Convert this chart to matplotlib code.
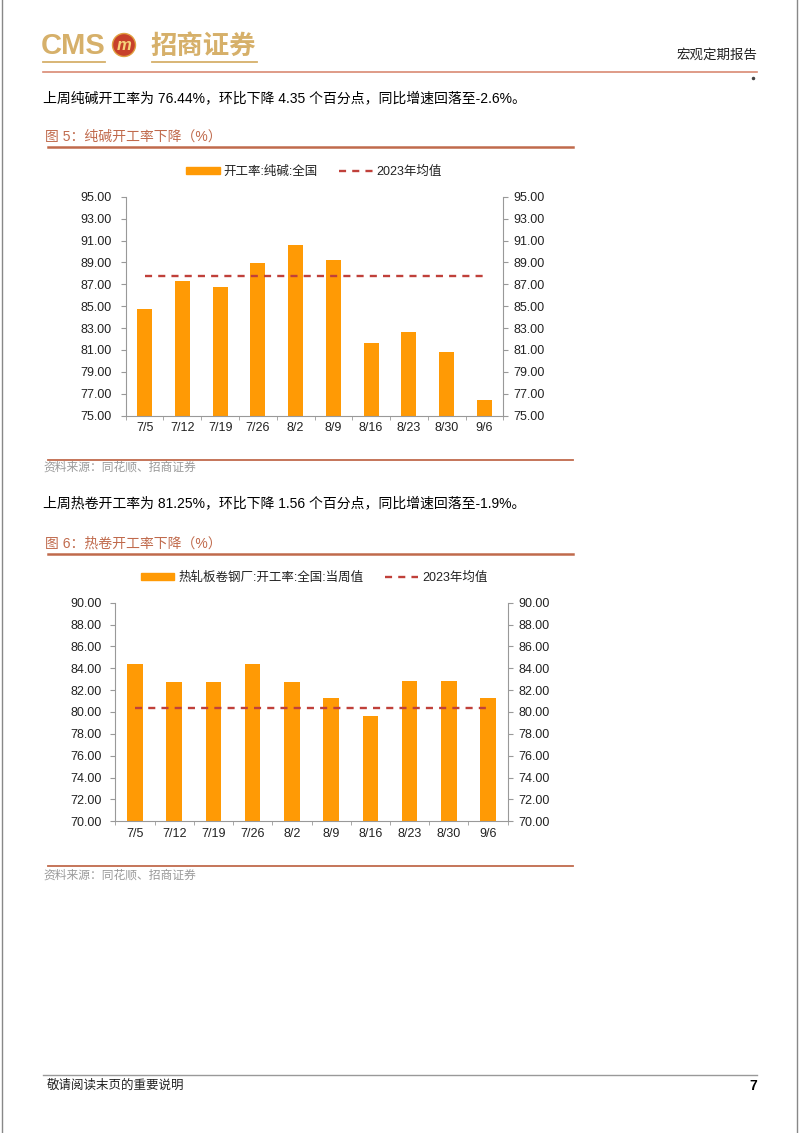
import numpy as np
import matplotlib
matplotlib.use("Agg")
import matplotlib.pyplot as plt
from matplotlib.patches import Patch, Ellipse
from matplotlib.lines import Line2D

plt.rcParams['font.family'] = ['Liberation Sans', 'Noto Sans CJK SC', 'DejaVu Sans']

W, H = 802, 1133
dates = ["7/5", "7/12", "7/19", "7/26", "8/2", "8/9", "8/16", "8/23", "8/30", "9/6"]
soda_rate = [84.74, 87.30, 86.78, 88.97, 90.59, 89.22, 81.61, 82.67, 80.79, 76.44]
soda_mean = 87.75
hrc_rate = [84.36, 82.77, 82.77, 84.36, 82.77, 81.25, 79.66, 82.81, 82.81, 81.25]
hrc_mean = 80.40
soda_ticks = [75, 77, 79, 81, 83, 85, 87, 89, 91, 93, 95]
hrc_ticks = [70, 72, 74, 76, 78, 80, 82, 84, 86, 88, 90]

ORANGE = "#ff9a05"; RED = "#c0403a"; TITLE = "#c06a4c"; GOLD = "#d6b06a"; RULE = "#d98a73"

fig = plt.figure(figsize=(8.02, 11.33), dpi=100)
def fx(x): return x / W
def fy(y): return 1 - y / H
def hline(x0, x1, y, color, lw):
    fig.add_artist(Line2D([fx(x0), fx(x1)], [fy(y), fy(y)], color=color, lw=lw))

def bar_chart(l, t, r, b, values, mean, ticks, series_name, legend_y, lpad):
    ax = fig.add_axes([l / W, 1 - b / H, (r - l) / W, (b - t) / H])
    x = np.arange(len(dates))
    ax.bar(x, values, width=0.4, color=ORANGE, zorder=2)
    ax.plot(x, np.full(len(dates), mean), color=RED, lw=1.7, dashes=(3.0, 2.6), zorder=3)
    ax.set_xlim(-0.5, len(dates) - 0.5); ax.set_ylim(ticks[0], ticks[-1])
    ax.set_xticks(x); ax.set_xticklabels(dates)
    ax.set_xticks(np.arange(-0.5, len(dates)), minor=True)
    ax.tick_params(axis='x', which='major', length=0, pad=4.5, labelsize=9, labelcolor="#222")
    ax.tick_params(axis='x', which='minor', length=3.2, color="#999", direction='out')
    ax.set_yticks(ticks); ax.set_yticklabels([f"{v:.2f}" for v in ticks])
    ax.tick_params(axis='y', length=3.3, color="#999", pad=lpad, labelsize=9, labelcolor="#222")
    for s in ("top", "right"): ax.spines[s].set_visible(False)
    for s in ("left", "bottom"): ax.spines[s].set_color("#999")
    ax2 = ax.twinx(); ax2.set_ylim(ticks[0], ticks[-1])
    ax2.set_yticks(ticks); ax2.set_yticklabels([f"{v:.2f}" for v in ticks])
    ax2.tick_params(axis='y', length=3.3, color="#999", pad=4.2, labelsize=9, labelcolor="#222")
    for s in ("top", "left", "bottom"): ax2.spines[s].set_visible(False)
    ax2.spines["right"].set_color("#999")
    hdl = [Patch(color=ORANGE, label=series_name),
           Line2D([], [], color=RED, lw=1.7, dashes=(3.0, 2.6), label="2023年均值")]
    leg = fig.legend(handles=hdl, loc='center', bbox_to_anchor=(fx(314), fy(legend_y)), ncol=2,
                     frameon=False, fontsize=9, handlelength=2.7, handleheight=0.5,
                     columnspacing=1.7, handletextpad=0.3)
    for tx in leg.get_texts(): tx.set_color("#222")
    return ax

# page frame + header
fig.add_artist(Line2D([fx(1.5), fx(1.5)], [0, 1], color="#888", lw=1))
fig.add_artist(Line2D([fx(797), fx(797)], [0, 1], color="#888", lw=1))
fig.text(fx(41), fy(46), "CMS", color=GOLD, fontsize=21, fontweight='bold', va='center')
fig.add_artist(Ellipse((fx(124), fy(45)), 23 / W, 23 / H, facecolor="#c7402a", edgecolor="#e0a040", lw=1))
fig.text(fx(124), fy(45), "m", color="#f7d27a", fontsize=12, fontweight='bold', style='italic', ha='center', va='center')
fig.text(fx(150), fy(46), "招商证券", color=GOLD, fontsize=19, fontweight='bold', va='center', family='Noto Sans CJK SC')
hline(43, 105, 62, GOLD, 1.3); hline(152, 257, 62, GOLD, 1.3)
hline(43, 757, 72, RULE, 1.2)
fig.text(fx(757), fy(55), "宏观定期报告", ha='right', va='center', fontsize=9.7, color="#222")
fig.add_artist(Line2D([fx(753)], [fy(78)], marker='o', ms=1.5, color="#444"))

# chart 5
fig.text(fx(43), fy(98), "上周纯碱开工率为 76.44%，环比下降 4.35 个百分点，同比增速回落至-2.6%。", fontsize=10, va='center')
fig.text(fx(45), fy(137), "图 5：纯碱开工率下降（%）", color=TITLE, fontsize=10, va='center')
hline(48, 573, 147, TITLE, 1.8)
bar_chart(125.7, 196.7, 503.3, 415.7, soda_rate, soda_mean, soda_ticks, "开工率:纯碱:全国", 171.7, 6.5)
hline(48, 573, 459.5, TITLE, 1.3)
fig.text(fx(43), fy(468), "资料来源：同花顺、招商证券", color="#9a9a9a", fontsize=8.5, va='center')

# chart 6
fig.text(fx(43), fy(503), "上周热卷开工率为 81.25%，环比下降 1.56 个百分点，同比增速回落至-1.9%。", fontsize=10, va='center')
fig.text(fx(45), fy(544), "图 6：热卷开工率下降（%）", color=TITLE, fontsize=10, va='center')
hline(48, 573, 554, TITLE, 1.8)
bar_chart(115.3, 602.7, 507.7, 821.3, hrc_rate, hrc_mean, hrc_ticks, "热轧板卷钢厂:开工率:全国:当周值", 578, 6.5)
hline(48, 573, 866, TITLE, 1.3)
fig.text(fx(43), fy(876), "资料来源：同花顺、招商证券", color="#9a9a9a", fontsize=8.5, va='center')

# footer
hline(43, 757, 1075, "#999", 1)
fig.text(fx(47), fy(1086), "敬请阅读末页的重要说明", fontsize=9, va='center', color="#222")
fig.text(fx(757), fy(1086), "7", fontsize=10, fontweight='bold', ha='right', va='center')

fig.savefig("out.png", dpi=100)
